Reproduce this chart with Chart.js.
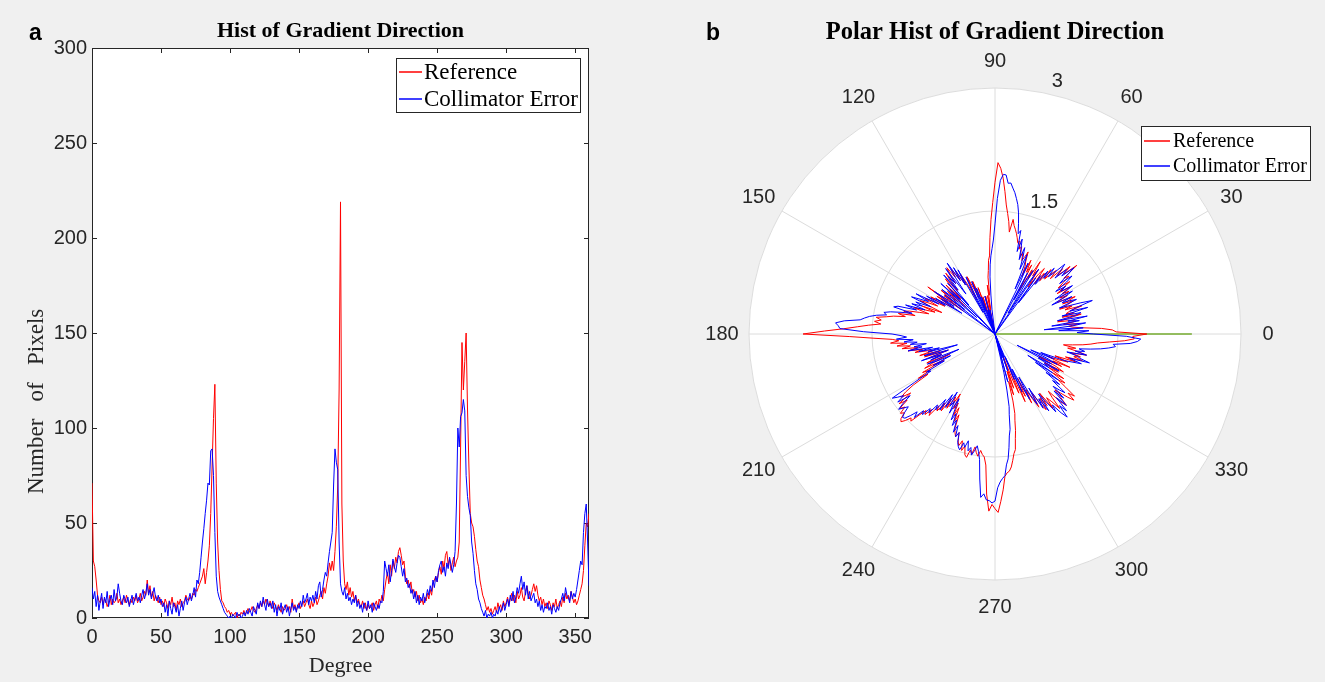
<!DOCTYPE html>
<html>
<head>
<meta charset="utf-8">
<script src="https://cdn.jsdelivr.net/npm/chart.js@4.4.1/dist/chart.umd.min.js"></script>
<style>
  html, body { margin: 0; padding: 0; background: #f0f0f0; }
  #wrap { position: relative; width: 1325px; height: 682px; overflow: hidden; }
  canvas { position: absolute; top: 0; }
  #histCanvas { left: 0; }
  #polarCanvas { left: 660px; }
  .tag { position: absolute; font: bold 23px "Liberation Sans", Arial, sans-serif; color: #000; }
</style>
</head>
<body>
<div id="wrap">
  <canvas id="histCanvas" width="660" height="682"></canvas>
  <canvas id="polarCanvas" width="665" height="682"></canvas>
  <div class="tag" style="left:29px;top:19px">a</div>
  <div class="tag" style="left:706px;top:19px">b</div>
</div>
<script>
// bins: 0..360 degrees
const degrees = Array.from({ length: 361 }, (_, i) => i);

// Reference histogram, one value per degree
const referenceCounts = [
  71, 30, 27, 20, 12, 9, 8, 11, 7, 10,
  9, 6, 8, 12, 7, 10, 8, 9, 13, 8,
  10, 7, 9, 11, 8, 12, 9, 7, 10, 8,
  11, 9, 12, 8, 10, 13, 9, 11, 14, 12,
  20, 13, 17, 11, 14, 9, 12, 10, 8, 11,
  7, 9, 6, 10, 8, 5, 9, 7, 11, 6,
  8, 4, 9, 7, 10, 6, 8, 9, 12, 10,
  9, 11, 10, 13, 12, 15, 14, 16, 18, 20,
  22, 26, 18, 24, 30, 38, 55, 80, 105, 123,
  71, 40, 25, 15, 9, 8, 6, 5, 3, 4,
  2, 3, 1, 2, 3, 0, 2, 1, 3, 2,
  4, 2, 3, 5, 3, 4, 6, 4, 3, 5,
  7, 5, 8, 6, 9, 7, 10, 8, 6, 9,
  7, 5, 8, 6, 4, 7, 5, 3, 6, 4,
  5, 7, 4, 6, 3, 10, 5, 7, 4, 6,
  8, 5, 7, 9, 6, 8, 10, 7, 5, 9,
  6, 8, 11, 7, 9, 12, 14, 10, 16, 13,
  18, 22, 29, 25, 30, 25, 35, 48, 70, 120,
  219, 60, 30, 18, 15, 19, 12, 16, 11, 14,
  9, 12, 8, 10, 7, 6, 9, 5, 8, 4,
  7, 5, 6, 8, 4, 7, 9, 5, 10, 8,
  12, 9, 15, 20, 24, 18, 28, 22, 30, 26,
  32, 29, 35, 37, 33, 28, 30, 22, 18, 20,
  16, 19, 13, 15, 11, 14, 9, 12, 8, 10,
  7, 11, 9, 13, 10, 15, 12, 18, 20, 22,
  19, 24, 27, 23, 30, 26, 33, 35, 28, 31,
  25, 29, 32, 27, 30, 32, 40, 90, 145, 120,
  135, 150, 110, 80, 55, 50, 48, 43, 36, 30,
  27, 20, 16, 12, 10, 7, 4, 6, 3, 5,
  2, 4, 6, 3, 8, 5, 7, 4, 9, 6,
  8, 11, 7, 10, 13, 9, 12, 8, 14, 10,
  12, 16, 11, 9, 14, 17, 13, 10, 12, 15,
  18, 14, 17, 12, 9, 11, 7, 10, 6, 8,
  5, 9, 7, 4, 8, 6, 10, 5, 7, 9,
  6, 11, 8, 13, 10, 12, 9, 14, 11, 8,
  10, 7, 9, 12, 15, 18, 25, 38, 50, 48,
  55
];

// Collimator error histogram
const collimatorCounts = [
  16, 10, 14, 6, 12, 4, 9, 13, 5, 11,
  8, 14, 6, 10, 12, 7, 15, 9, 11, 18,
  13, 9, 7, 12, 10, 8, 11, 6, 9, 12,
  7, 10, 13, 9, 11, 8, 12, 15, 10, 13,
  18, 12, 15, 10, 13, 16, 11, 9, 12, 8,
  10, 6, 8, 3, 7, 1, 9, 5, 2, 8,
  6, 3, 7, 1, 5, 9, 4, 8, 11, 7,
  10, 13, 9, 12, 16, 11, 20, 18, 24, 32,
  40, 47, 55, 62, 71, 70, 88, 89, 75, 45,
  22, 14, 11, 9, 7, 5, 3, 2, 1, 0,
  1, 0, 2, 1, 0, 3, 1, 2, 0, 1,
  3, 1, 4, 2, 5, 3, 1, 6, 4, 2,
  8, 5, 9, 6, 11, 7, 4, 10, 6, 8,
  5, 9, 3, 7, 1, 6, 4, 8, 2, 5,
  7, 3, 6, 1, 5, 8, 4, 6, 3, 7,
  5, 9, 6, 12, 8, 10, 13, 7, 11, 9,
  12, 8, 14, 10, 17, 19, 11, 15, 20, 24,
  22, 29, 35, 40, 45, 70, 89, 82, 78, 40,
  18, 14, 12, 16, 10, 13, 9, 11, 7, 10,
  8, 12, 6, 9, 5, 7, 3, 8, 6, 4,
  9, 5, 7, 3, 8, 6, 4, 7, 5, 9,
  8, 14, 30, 26, 22, 28, 19, 25, 31, 27,
  24, 29, 33, 32, 27, 22, 26, 19, 21, 16,
  18, 13, 15, 10, 14, 8, 12, 7, 11, 9,
  13, 8, 11, 15, 12, 17, 14, 20, 16, 22,
  19, 25, 28, 30, 24, 27, 22, 29, 26, 32,
  28, 24, 28, 35, 60, 100, 90, 106, 108, 115,
  109, 75, 64, 58, 54, 40, 34, 25, 18, 15,
  10, 8, 5, 3, 1, 4, 0, 2, 1, 3,
  0, 2, 1, 4, 2, 6, 3, 5, 8, 4,
  7, 10, 6, 12, 9, 14, 8, 11, 16, 13,
  18, 22, 15, 19, 12, 17, 10, 14, 9, 11,
  13, 8, 10, 6, 9, 4, 7, 3, 6, 5,
  8, 4, 6, 2, 7, 5, 3, 6, 4, 8,
  10, 13, 9, 16, 12, 11, 8, 14, 10, 13,
  11, 15, 20, 25, 30, 28, 45, 55, 60, 40,
  17
];

const seriesNames = ["Reference", "Collimator Error"];
const seriesColors = ["#ff0000", "#0000ff"];

const angleTickLabels = [0, 30, 60, 90, 120, 150, 180, 210, 240, 270, 300, 330];
const radialTickLabels = [1.5, 3];
// green radial segment along 0 deg in the polar panel
const spokeAngles = [0];
const spokeLengths = [2.4];

const SERIF = '"Liberation Serif", "Times New Roman", serif';
const SANS = '"Liberation Sans", Arial, sans-serif';
const INK = "#262626";

// white plot area
const plotBg = {
    id: "plotBg",
    beforeDraw(chart) {
        const { ctx, chartArea: a } = chart;
        ctx.save();
        ctx.fillStyle = "#fff";
        ctx.fillRect(a.left, a.top, a.width, a.height);
        ctx.restore();
    }
};

// box around axes with ticks pointing inward (matlab style)
const axisBox = {
    id: "axisBox",
    beforeDatasetsDraw(chart) {
        const { ctx, chartArea: a, scales } = chart;
        const len = 5;
        ctx.save();
        ctx.strokeStyle = INK;
        ctx.lineWidth = 1;
        ctx.strokeRect(a.left + 0.5, a.top + 0.5, a.width - 1, a.height - 1);
        ctx.beginPath();
        scales.x.ticks.forEach(t => {
            const px = Math.round(scales.x.getPixelForValue(t.value)) + 0.5;
            ctx.moveTo(px, a.bottom); ctx.lineTo(px, a.bottom - len);
            ctx.moveTo(px, a.top); ctx.lineTo(px, a.top + len);
        });
        scales.y.ticks.forEach(t => {
            const py = Math.round(scales.y.getPixelForValue(t.value)) + 0.5;
            ctx.moveTo(a.left, py); ctx.lineTo(a.left + len, py);
            ctx.moveTo(a.right, py); ctx.lineTo(a.right - len, py);
        });
        ctx.stroke();
        ctx.restore();
    }
};

// rotated y label, placed along the axis like the original
const sideLabel = {
    id: "sideLabel",
    afterDraw(chart, args, o) {
        const { ctx, chartArea: a } = chart;
        ctx.save();
        ctx.translate(o.x, a.top + a.height * o.along);
        ctx.rotate(-Math.PI / 2);
        ctx.font = o.font;
        ctx.fillStyle = INK;
        ctx.textAlign = "center";
        ctx.textBaseline = "middle";
        ctx.fillText(o.text, 0, 0);
        ctx.restore();
    }
};

// legend box with border, anchored to the chart area's top-right corner
const boxLegend = {
    id: "boxLegend",
    afterDraw(chart, args, o) {
        const { ctx, chartArea } = chart;
        const items = chart.data.datasets.filter(d => d.label);
        ctx.save();
        ctx.font = o.font;
        const textW = Math.max(...items.map(d => ctx.measureText(d.label).width));
        const w = Math.round(o.padLeft + o.lineLen + o.gap + textW + o.padRight);
        const h = items.length * o.rowH + o.padY * 2;
        const right = chartArea.right - o.offsetX;
        const top = chartArea.top + o.offsetY;
        const left = Math.round(right - w);
        ctx.fillStyle = "#fff";
        ctx.fillRect(left, top, w, h);
        ctx.strokeStyle = INK;
        ctx.lineWidth = 1;
        ctx.strokeRect(left + 0.5, top + 0.5, w, h);
        items.forEach((d, i) => {
            const cy = Math.round(top + o.padY + o.rowH * (i + 0.5));
            ctx.strokeStyle = d.borderColor;
            ctx.lineWidth = 1.5;
            ctx.beginPath();
            ctx.moveTo(left + o.padLeft, cy);
            ctx.lineTo(left + o.padLeft + o.lineLen, cy);
            ctx.stroke();
            ctx.fillStyle = "#000";
            ctx.textBaseline = "middle";
            ctx.fillText(d.label, left + o.padLeft + o.lineLen + o.gap, cy + 1);
        });
        ctx.restore();
    }
};

// angle labels and r tick labels for the polar panel
const polarText = {
    id: "polarText",
    afterDraw(chart, args, o) {
        const { ctx } = chart;
        const s = chart.scales.r;
        ctx.save();
        ctx.font = "20px " + SANS;
        ctx.fillStyle = INK;
        ctx.textAlign = "center";
        ctx.textBaseline = "middle";
        angleTickLabels.forEach(deg => {
            const p = s.getPointPosition(indexForAngle(deg), s.drawingArea + o.labelGap);
            ctx.fillText(String(deg), p.x, p.y);
        });
        const a = o.rAxisAngle * Math.PI / 180;
        ctx.textAlign = "left";
        radialTickLabels.forEach(v => {
            const d = s.getDistanceFromCenterForValue(v);
            const x = s.xCenter + d * Math.cos(a) + o.rLabelDx;
            const y = s.yCenter - d * Math.sin(a) + o.rLabelDy;
            ctx.fillText(String(v), x, y);
        });
        ctx.restore();
    }
};

// radar index i sits i degrees clockwise from the top -> math angle 90 - i
function indexForAngle(deg) {
    return ((90 - deg) % 360 + 360) % 360;
}
function angleForIndex(i) {
    return ((90 - i) % 360 + 360) % 360;
}

const histChart = new Chart(document.getElementById("histCanvas"), {
    type: "line",
    data: {
        labels: degrees,
        datasets: [
            { label: seriesNames[0], data: referenceCounts, borderColor: seriesColors[0], order: 1 },
            { label: seriesNames[1], data: collimatorCounts, borderColor: seriesColors[1], order: 0 }
        ]
    },
    options: {
        responsive: false,
        animation: false,
        layout: { padding: { left: 0, right: 71, top: 0, bottom: 0 } },
        elements: { point: { radius: 0 }, line: { borderWidth: 1, tension: 0 } },
        scales: {
            x: {
                type: "linear",
                min: 0, max: 360,
                grid: { display: false, drawTicks: false },
                border: { display: false },
                ticks: { stepSize: 50, includeBounds: false, maxRotation: 0, padding: 7, color: INK, font: { family: SANS, size: 20 } },
                title: { display: true, text: "Degree", color: INK, font: { family: SERIF, size: 22 }, padding: { top: 0, bottom: 3 } },
                afterFit(scale) { scale.height = 64; }
            },
            y: {
                min: 0, max: 300,
                grid: { display: false, drawTicks: false },
                border: { display: false },
                ticks: { stepSize: 50, padding: 5, color: INK, font: { family: SANS, size: 20 } },
                afterFit(scale) { scale.width = 92; }
            }
        },
        plugins: {
            legend: { display: false },
            tooltip: { enabled: false },
            title: {
                display: true, fullSize: false,
                text: "Hist of Gradient Direction",
                color: "#000",
                font: { family: SERIF, size: 22, weight: "bold", lineHeight: 1.2 },
                padding: { top: 18, bottom: 3.6 }
            },
            sideLabel: { text: "Number   of   Pixels", font: "23px " + SERIF, x: 37, along: 0.62 },
            boxLegend: { font: "23px " + SERIF, rowH: 27, padY: 0, padLeft: 3, padRight: 2, lineLen: 23, gap: 2, offsetX: 9, offsetY: 10 }
        }
    },
    plugins: [plotBg, axisBox, sideLabel, boxLegend]
});

const radarLabels = Array.from({ length: 360 }, (_, i) => angleForIndex(i));
const toRadius = counts => radarLabels.map(deg => Math.log10(Math.max(1, counts[deg])));
const spokeData = radarLabels.map(deg => {
    const k = spokeAngles.indexOf(deg);
    return k >= 0 ? spokeLengths[k] : 0;
});

const polarChart = new Chart(document.getElementById("polarCanvas"), {
    type: "radar",
    data: {
        labels: radarLabels,
        datasets: [
            { label: seriesNames[0], data: toRadius(referenceCounts), borderColor: seriesColors[0], order: 1 },
            { label: seriesNames[1], data: toRadius(collimatorCounts), borderColor: seriesColors[1], order: 0 },
            { label: "", data: spokeData, borderColor: "#77ac30", order: 2 }
        ]
    },
    options: {
        responsive: false,
        animation: false,
        layout: { padding: { left: 89, right: 84, top: 0, bottom: 101 } },
        elements: { point: { radius: 0 }, line: { borderWidth: 1, tension: 0, fill: false } },
        scales: {
            r: {
                min: 0, max: 3,
                startAngle: 0,
                backgroundColor: "#fff",
                ticks: { display: false, stepSize: 1.5 },
                grid: { circular: true, color: "#dcdcdc", lineWidth: 1 },
                angleLines: { display: true, color: "#dcdcdc", lineWidth: c => (angleForIndex(c.index) % 30 === 0 ? 1 : 0) },
                pointLabels: { display: false }
            }
        },
        plugins: {
            legend: { display: false },
            tooltip: { enabled: false },
            title: {
                display: true, fullSize: false,
                text: "Polar Hist of Gradient Direction",
                color: "#000",
                font: { family: SERIF, size: 24.5, weight: "bold", lineHeight: 1.2 },
                padding: { top: 18, bottom: 39.6 }
            },
            polarText: { labelGap: 27, rAxisAngle: 80, rLabelDx: 14, rLabelDy: -10 },
            boxLegend: { font: "20px " + SERIF, rowH: 25, padY: 2, padLeft: 3, padRight: 3, lineLen: 26, gap: 3, offsetX: -69, offsetY: 39 }
        }
    },
    plugins: [polarText, boxLegend]
});
</script>
</body>
</html>
